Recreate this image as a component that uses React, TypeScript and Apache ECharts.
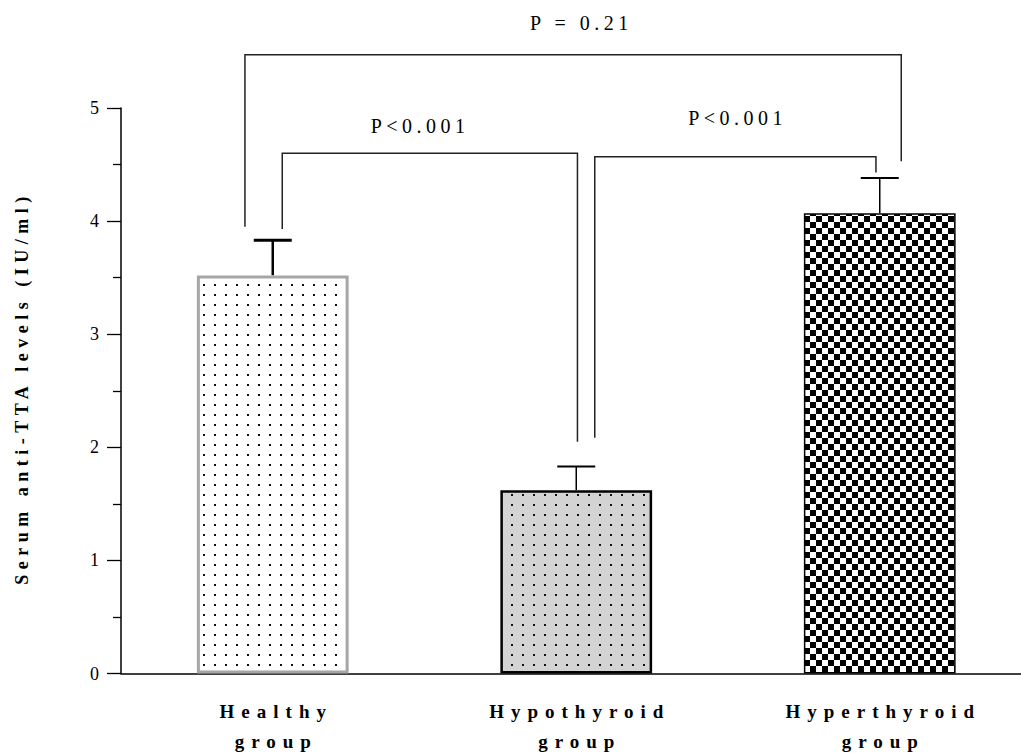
import React, { useEffect, useRef } from "react";
import * as echarts from "echarts";

// ---- data ----
const categories = ["Healthy\ngroup", "Hypothyroid\ngroup", "Hyperthyroid\ngroup"];
const means = [3.52, 1.62, 4.07];
const sems = [0.31, 0.21, 0.31];
const yMin = 0;
const yMax = 5;
const yInterval = 1;
const yAxisName = "Serum anti-TTA levels (IU/ml)";
// significance brackets
const bracketFrom = [0, 1, 0];
const bracketTo = [1, 2, 2];
const bracketTop = [4.6, 4.57, 5.47];
const bracketLeftEnd = [3.93, 2.085, 3.95];
const bracketRightEnd = [2.05, 4.43, 4.53];
const bracketLabels = ["P<0.001", "P<0.001", "P = 0.21"];

// ---- styles ----
const SERIF = '"Liberation Serif", "Times New Roman", serif';
const legOffsetLeft = [9.5, 18.5, -27.8];
const legOffsetRight = [1.2, -3.8, 21.5];
const labelDx = [-12, 0, 6];
const labelDy = [27, 39, 32];

function makePattern(kind: string): any {
  const c = document.createElement("canvas");
  const ctx = c.getContext("2d")!;
  if (kind === "check") {
    c.width = 12;
    c.height = 12;
    ctx.fillStyle = "#fff";
    ctx.fillRect(0, 0, 12, 12);
    ctx.fillStyle = "#000";
    ctx.fillRect(0, 0, 6, 6);
    ctx.fillRect(6, 6, 6, 6);
  } else {
    c.width = 11;
    c.height = 10;
    ctx.fillStyle = kind === "grayDots" ? "#d3d3d3" : "#ffffff";
    ctx.fillRect(0, 0, 11, 10);
    ctx.fillStyle = "#111";
    ctx.fillRect(5, 4, 2, 2);
  }
  return { image: c, repeat: "repeat" };
}

const spacingMap: Record<string, number> = {
  Healthy: 7,
  Hypothyroid: 7,
  Hyperthyroid: 7,
  group: 7,
  "P<0.001": 4.5,
  "P = 0.21": 4.5,
};
spacingMap[yAxisName] = 5.5;

function applySpacing(el: HTMLElement | null) {
  if (!el) return;
  el.querySelectorAll("text").forEach((t) => {
    const s = spacingMap[(t.textContent || "").trim()];
    if (s && t.getAttribute("data-ls") !== "1") {
      t.setAttribute("letter-spacing", String(s));
      t.setAttribute("dx", String(s / 2));
      t.setAttribute("data-ls", "1");
    }
  });
}

export default function App() {
  const ref = useRef<HTMLDivElement>(null);
  useEffect(() => {
    const chart = echarts.init(ref.current!, null, { renderer: "svg" });
    const fills = [makePattern("whiteDots"), makePattern("grayDots"), makePattern("check")];
    const borders = [
      { borderColor: "#a6a6a6", borderWidth: 3 },
      { borderColor: "#000", borderWidth: 2.5 },
      { borderColor: "#000", borderWidth: 1.5 },
    ];
    const option: any = {
      animation: false,
      grid: {
        left: 121,
        top: 108,
        width: 910.5,
        height: 565.5,
        containLabel: false,
        outerBoundsMode: "none",
      },
      xAxis: {
        type: "category",
        data: categories,
        boundaryGap: true,
        axisLine: { lineStyle: { color: "#000", width: 1.5 } },
        axisTick: { alignWithLabel: true, length: 14, lineStyle: { color: "#000", width: 1.3 } },
        axisLabel: {
          margin: 23,
          color: "#000",
          fontFamily: SERIF,
          fontWeight: "bold",
          fontSize: 19,
          lineHeight: 30,
          interval: 0,
        },
        splitLine: { show: false },
      },
      yAxis: {
        type: "value",
        min: yMin,
        max: yMax,
        interval: yInterval,
        name: yAxisName,
        nameLocation: "middle",
        nameRotate: 90,
        nameGap: 90,
        nameMoveOverlap: false,
        nameTextStyle: { color: "#000", fontFamily: SERIF, fontWeight: "bold", fontSize: 18 },
        axisLine: { show: true, lineStyle: { color: "#000", width: 1.5 } },
        axisTick: { show: true, length: 14, lineStyle: { color: "#000", width: 1.3 } },
        minorTick: { show: true, splitNumber: 2, length: 8, lineStyle: { color: "#000", width: 1.3 } },
        axisLabel: { margin: 22, color: "#000", fontFamily: SERIF, fontSize: 18 },
        splitLine: { show: false },
      },
      series: [
        {
          type: "bar",
          silent: true,
          barWidth: "50%",
          data: means.map((v, i) => ({
            value: v,
            itemStyle: { color: fills[i], ...borders[i] },
          })),
        },
        {
          type: "custom",
          silent: true,
          clip: false,
          encode: { x: 0, y: 1 },
          data: means.map((m, i) => [i, m + sems[i], m]),
          renderItem: (params: any, api: any) => {
            const i = api.value(0);
            const pTop = api.coord([i, api.value(1)]);
            const pBase = api.coord([i, api.value(2)]);
            const heavy = params.dataIndex === 0;
            return {
              type: "group",
              children: [
                {
                  type: "line",
                  shape: { x1: pTop[0], y1: pBase[1], x2: pTop[0], y2: pTop[1] },
                  style: { stroke: "#000", lineWidth: heavy ? 2.5 : 1.5 },
                },
                {
                  type: "line",
                  shape: { x1: pTop[0] - 19, y1: pTop[1], x2: pTop[0] + 19, y2: pTop[1] },
                  style: { stroke: "#000", lineWidth: heavy ? 3 : 2 },
                },
              ],
            };
          },
        },
        {
          type: "custom",
          silent: true,
          clip: false,
          encode: { x: 0, y: 1 },
          data: bracketFrom.map((f, i) => [f, bracketTop[i], bracketTo[i], bracketLeftEnd[i], bracketRightEnd[i]]),
          renderItem: (params: any, api: any) => {
            const k = params.dataIndex;
            const from = api.value(0);
            const top = api.value(1);
            const to = api.value(2);
            const pl = api.coord([from, api.value(3)]);
            const pr = api.coord([to, api.value(4)]);
            const pt = api.coord([from, top]);
            const xl = pl[0] + legOffsetLeft[k];
            const xr = pr[0] + legOffsetRight[k];
            return {
              type: "group",
              children: [
                {
                  type: "polyline",
                  shape: { points: [[xl, pl[1]], [xl, pt[1]], [xr, pt[1]], [xr, pr[1]]] },
                  style: { stroke: "#222", lineWidth: 1.5, fill: null },
                },
                {
                  type: "text",
                  style: {
                    text: bracketLabels[k],
                    x: (xl + xr) / 2 + labelDx[k],
                    y: pt[1] - labelDy[k],
                    textAlign: "center",
                    textVerticalAlign: "middle",
                    fontFamily: SERIF,
                    fontSize: 20,
                    fill: "#000",
                  },
                },
              ],
            };
          },
        },
      ],
    };
    chart.on("finished", () => applySpacing(ref.current));
    chart.setOption(option);
    applySpacing(ref.current);
    const t = setTimeout(() => applySpacing(ref.current), 50);
    return () => {
      clearTimeout(t);
      chart.dispose();
    };
  }, []);
  return (
    <div style={{ position: "absolute", left: 0, top: 0, width: 1021, height: 753, overflow: "hidden", background: "#fff" }}>
      <div ref={ref} style={{ width: 1045, height: 753 }} />
    </div>
  );
}
